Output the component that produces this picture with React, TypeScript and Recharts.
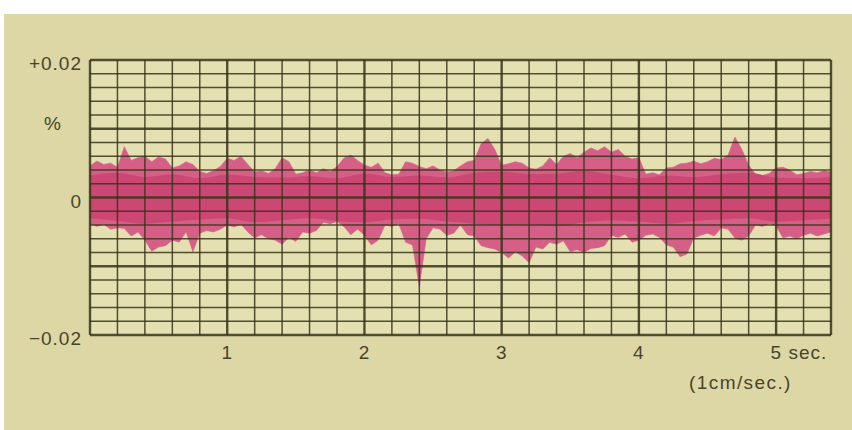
import React from 'react';
import { ComposedChart, Area, XAxis, YAxis, ReferenceLine, ReferenceArea } from 'recharts';

// Trace envelope sampled every 0.05 s, values in thousandths of a percent
const SAMPLE_STEP_SEC = 0.05;
const upperMilli = [
  4.6, 5.3, 4.8, 5.0, 4.4, 7.4, 5.4, 5.8, 6.0, 5.2,
  5.9, 5.6, 4.3, 4.6, 5.2, 4.8, 3.8, 3.5, 3.9, 4.5,
  5.7, 5.4, 6.0, 4.8, 3.7, 3.9, 3.5, 4.2, 5.8, 5.2,
  3.4, 3.6, 4.0, 3.6, 4.2, 3.8, 4.5, 5.7, 6.2, 5.4,
  4.7, 4.4, 5.0, 3.6, 3.3, 3.4, 5.2, 5.0, 4.5, 4.2,
  4.6, 4.0, 3.7, 3.9, 4.6, 5.2, 5.4, 7.8, 8.6, 7.0,
  4.7, 4.9, 5.2, 5.0, 4.3, 4.1, 4.6, 5.8, 4.8, 6.0,
  6.4, 5.8, 6.6, 7.2, 6.8, 7.4, 6.6, 7.0, 6.0, 5.6,
  5.8, 3.4, 3.6, 3.3, 4.3, 4.4, 4.9, 5.0, 5.3, 4.9,
  5.2, 5.7, 5.5, 6.2, 8.8, 7.0, 4.7, 3.4, 3.2, 3.5,
  4.3, 4.4, 4.0, 3.3, 3.5, 3.8, 3.6, 3.9, 3.7,
];
const lowerMilli = [
  -3.8, -4.2, -3.9, -4.6, -4.4, -4.5, -5.6, -5.0, -6.2, -7.8,
  -7.2, -7.0, -6.2, -6.5, -5.0, -7.9, -5.2, -4.8, -5.0, -4.6,
  -4.0, -4.3, -3.9, -5.0, -5.9, -5.4, -6.0, -6.2, -6.8, -5.8,
  -6.4, -5.0, -5.2, -4.8, -3.6, -3.8, -3.5, -4.2, -5.4, -4.6,
  -5.5, -6.9, -6.2, -4.0, -4.2, -3.8, -6.5, -6.9, -13.0, -6.0,
  -4.4, -4.6, -5.5, -5.2, -4.0, -5.4, -5.6, -7.0, -7.3, -7.5,
  -8.0, -8.8, -7.9, -8.5, -9.5, -7.2, -7.5, -6.5, -6.8, -6.3,
  -7.9, -7.6, -8.0, -7.4, -7.3, -7.0, -5.5, -5.8, -5.3, -6.5,
  -6.2, -5.5, -5.3, -5.8, -6.9, -7.2, -8.6, -8.2, -5.9, -5.5,
  -5.2, -5.6, -4.4, -4.6, -5.9, -6.2, -5.6, -4.0, -4.2, -3.8,
  -4.1, -5.9, -5.6, -6.0, -5.5, -5.2, -5.6, -5.3, -5.0,
];

// Dense core of the trace, sampled every 0.2 s (thousandths of a percent)
const CORE_STEP_SEC = 0.2;
const coreUpperMilli = [
  3.2, 3.6, 3.0, 3.4, 2.8, 3.3, 3.0, 2.9, 3.1, 2.8,
  3.5, 3.0, 3.2, 2.9, 3.6, 3.8, 3.4, 3.5, 3.9, 3.3,
  2.8, 3.2, 3.0, 3.4, 3.6, 2.9, 2.8, 3.0,
];
const coreLowerMilli = [
  -3.0, -3.4, -3.8, -3.5, -3.2, -3.0, -3.6, -3.3, -3.0, -3.4,
  -3.6, -3.2, -3.1, -3.5, -3.8, -4.0, -3.9, -4.2, -3.6, -3.3,
  -3.5, -3.8, -3.4, -3.2, -3.0, -3.5, -3.3, -3.1,
];

const xTickValues = [1, 2, 3, 4, 5];
const xTickLabels = ['1', '2', '3', '4', '5 sec.'];
const xUnitLabel = '(1cm/sec.)';
const yTickValues = [-0.02, 0, 0.01, 0.02];
const yTickLabels = ['\u22120.02', '0', '%', '+0.02'];

const xGridLines = [
  0, 0.2, 0.4, 0.6, 0.8, 1, 1.2, 1.4, 1.6, 1.8, 2, 2.2, 2.4, 2.6, 2.8,
  3, 3.2, 3.4, 3.6, 3.8, 4, 4.2, 4.4, 4.6, 4.8, 5, 5.2, 5.4,
];
const yGridLines = [
  -0.02, -0.018, -0.016, -0.014, -0.012, -0.01, -0.008, -0.006, -0.004, -0.002,
  0, 0.002, 0.004, 0.006, 0.008, 0.01, 0.012, 0.014, 0.016, 0.018, 0.02,
];

const X_MAX = 5.4;

const signalData = upperMilli.map((u, i) => ({
  t: Number((i * SAMPLE_STEP_SEC).toFixed(2)),
  band: [lowerMilli[i] / 1000, u / 1000],
}));
const coreData = coreUpperMilli.map((u, i) => ({
  t: Number((i * CORE_STEP_SEC).toFixed(2)),
  band: [coreLowerMilli[i] / 1000, u / 1000],
}));

const FONT = '"Liberation Sans", Arial, Helvetica, sans-serif';
const TEXT_COLOR = '#47452a';
const GRID_COLOR = '#36341a';

const XTick = (props: any) => {
  const { x, y, payload } = props;
  const idx = xTickValues.indexOf(payload.value);
  const label = xTickLabels[idx] ?? String(payload.value);
  const isLast = idx === xTickValues.length - 1;
  return (
    <g>
      <text
        x={isLast ? x - 5.5 : x}
        y={y + 24}
        textAnchor={isLast ? 'start' : 'middle'}
        fontFamily={FONT}
        fontSize={19}
        letterSpacing={1}
        fill={TEXT_COLOR}
      >
        {label}
      </text>
      {isLast && (
        <text
          x={x - 87}
          y={y + 54}
          textAnchor="start"
          fontFamily={FONT}
          fontSize={19}
          letterSpacing={1.4}
          fill={TEXT_COLOR}
        >
          {xUnitLabel}
        </text>
      )}
    </g>
  );
};

const YTick = (props: any) => {
  const { x, y, payload } = props;
  const idx = yTickValues.indexOf(payload.value);
  const label = yTickLabels[idx] ?? String(payload.value);
  const isUnit = label === '%';
  return (
    <text
      x={isUnit ? x - 37 : x - 8}
      y={isUnit ? y + 1 : y + 10}
      textAnchor={isUnit ? 'middle' : 'end'}
      fontFamily={FONT}
      fontSize={19}
      letterSpacing={1}
      fill={TEXT_COLOR}
    >
      {label}
    </text>
  );
};

const isMajorX = (v: number) => Math.abs(v - Math.round(v)) < 1e-9 || Math.abs(v - X_MAX) < 1e-9;
const isMajorY = (v: number) => Math.abs(v * 100 - Math.round(v * 100)) < 1e-9;

export default function App() {
  return (
    <div style={{ position: 'relative', width: 852, height: 430, background: '#ffffff', overflow: 'hidden' }}>
      <style>{'body{margin:0;}'}</style>
      <div
        style={{
          position: 'absolute',
          left: 4,
          top: 14,
          right: 0,
          bottom: 0,
          background: '#dcd7a5',
        }}
      />
      <div style={{ position: 'absolute', left: 0, top: 0 }}>
        <ComposedChart
          width={852}
          height={430}
          margin={{ top: 60, right: 21, bottom: 35, left: 10 }}
        >
          <XAxis
            dataKey="t"
            type="number"
            domain={[0, X_MAX]}
            allowDataOverflow
            ticks={xTickValues}
            tick={<XTick />}
            axisLine={false}
            tickLine={false}
            tickSize={0}
            tickMargin={0}
            height={60}
            interval={0}
          />
          <YAxis
            type="number"
            domain={[-0.02, 0.02]}
            allowDataOverflow
            ticks={yTickValues}
            tick={<YTick />}
            axisLine={false}
            tickLine={false}
            tickSize={0}
            tickMargin={0}
            width={80}
            interval={0}
          />
          <ReferenceArea x1={0} x2={X_MAX} y1={-0.02} y2={0.02} fill="#e4e0b2" fillOpacity={1} stroke="none" />
          <Area
            data={signalData}
            dataKey="band"
            type="linear"
            stroke="#d65f88"
            strokeWidth={0.6}
            fill="#d65f88"
            fillOpacity={1}
            isAnimationActive={false}
            dot={false}
            activeDot={false}
          />
          <Area
            data={coreData}
            dataKey="band"
            type="monotone"
            stroke="none"
            fill="#cc4774"
            fillOpacity={1}
            isAnimationActive={false}
            dot={false}
            activeDot={false}
          />
          {yGridLines.map((v) => (
            <ReferenceLine
              key={`h${v}`}
              y={v}
              stroke={GRID_COLOR}
              strokeWidth={isMajorY(v) ? 2.4 : 1.5}
              strokeOpacity={0.85}
            />
          ))}
          {xGridLines.map((v) => (
            <ReferenceLine
              key={`v${v}`}
              x={v}
              stroke={GRID_COLOR}
              strokeWidth={isMajorX(v) ? 2.4 : 1.5}
              strokeOpacity={0.85}
            />
          ))}
        </ComposedChart>
      </div>
    </div>
  );
}
